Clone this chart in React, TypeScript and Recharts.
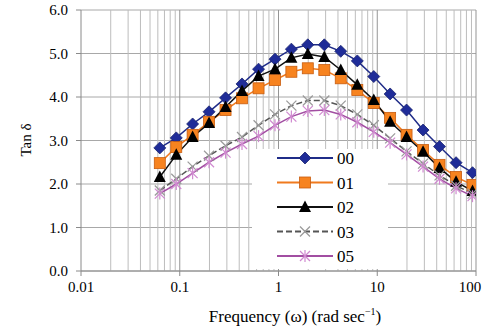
import React from "react";
import { LineChart, Line, XAxis, YAxis, CartesianGrid, ReferenceLine } from "recharts";

// angular frequency (rad/s), ~6 points per decade
const freq = [0.0628, 0.0922, 0.135, 0.198, 0.291, 0.427, 0.628, 0.922, 1.35, 1.98, 2.91, 4.27, 6.28, 9.22, 13.5, 19.8, 29.1, 42.7, 62.8, 92.2];

const tan00 = [2.83, 3.06, 3.38, 3.66, 3.98, 4.3, 4.64, 4.87, 5.1, 5.2, 5.2, 5.05, 4.83, 4.47, 4.07, 3.7, 3.24, 2.86, 2.49, 2.26];
const tan01 = [2.48, 2.85, 3.13, 3.43, 3.7, 3.97, 4.2, 4.39, 4.58, 4.66, 4.62, 4.43, 4.16, 3.86, 3.52, 3.13, 2.78, 2.44, 2.16, 1.98];
const tan02 = [2.16, 2.67, 3.08, 3.4, 3.77, 4.14, 4.48, 4.64, 4.9, 4.99, 4.92, 4.62, 4.28, 3.93, 3.43, 3.08, 2.74, 2.37, 2.05, 1.84];
const tan03 = [1.85, 2.12, 2.4, 2.65, 2.88, 3.08, 3.35, 3.6, 3.8, 3.92, 3.92, 3.8, 3.6, 3.35, 3.05, 2.75, 2.47, 2.2, 1.96, 1.78];
const tan05 = [1.78, 2.0, 2.25, 2.5, 2.72, 2.92, 3.1, 3.35, 3.55, 3.68, 3.7, 3.6, 3.42, 3.2, 2.95, 2.68, 2.4, 2.12, 1.9, 1.72];

const xTicks = [0.01, 0.1, 1, 10, 100];
const yTicks = [0, 1, 2, 3, 4, 5, 6];
const minorX = [
  0.02, 0.03, 0.04, 0.05, 0.06, 0.07, 0.08, 0.09,
  0.2, 0.3, 0.4, 0.5, 0.6, 0.7, 0.8, 0.9,
  2, 3, 4, 5, 6, 7, 8, 9,
  20, 30, 40, 50, 60, 70, 80, 90,
];
const majorX = [0.1, 1, 10, 100];

const data = freq.map((f, i) => ({
  f,
  s00: tan00[i],
  s01: tan01[i],
  s02: tan02[i],
  s03: tan03[i],
  s05: tan05[i],
}));

type Shape = "diamond" | "square" | "triangle" | "x" | "star";

const series: { key: string; name: string; color: string; shape: Shape; dash?: string; width: number }[] = [
  { key: "s00", name: "00", color: "#1f2c88", shape: "diamond", width: 1.5 },
  { key: "s01", name: "01", color: "#f07a1e", shape: "square", width: 1.5 },
  { key: "s02", name: "02", color: "#111111", shape: "triangle", width: 1.5 },
  { key: "s03", name: "03", color: "#555555", shape: "x", dash: "6 3", width: 1.5 },
  { key: "s05", name: "05", color: "#a24ea2", shape: "star", width: 1.5 },
];

const SERIF = "Liberation Serif";

const renderXTick = (p: any) => (
  <text key={`xt${p.index}`} x={p.x} y={p.y} dy="0.71em" textAnchor="middle" fontFamily={SERIF} fontSize={15} fill="#000">
    {String(p.payload.value)}
  </text>
);

const renderYTick = (p: any) => (
  <text key={`yt${p.index}`} x={p.x} y={p.y} dy="0.35em" textAnchor="end" fontFamily={SERIF} fontSize={15} fill="#000">
    {Number(p.payload.value).toFixed(1)}
  </text>
);

const Marker = ({ shape, cx, cy }: { shape: Shape; cx: number; cy: number }) => {
  switch (shape) {
    case "diamond":
      return <polygon points={`${cx},${cy - 6} ${cx + 6},${cy} ${cx},${cy + 6} ${cx - 6},${cy}`} fill="#1f2c98" stroke="#1a2470" strokeWidth={0.8} />;
    case "square":
      return <rect x={cx - 5.5} y={cy - 5.5} width={11} height={11} fill="#f7831f" stroke="#c85d10" strokeWidth={0.8} />;
    case "triangle":
      return <polygon points={`${cx},${cy - 6.5} ${cx + 6},${cy + 5} ${cx - 6},${cy + 5}`} fill="#000" />;
    case "x":
      return (
        <g stroke="#9a9a9a" strokeWidth={1.2}>
          <line x1={cx - 5} y1={cy - 5} x2={cx + 5} y2={cy + 5} />
          <line x1={cx - 5} y1={cy + 5} x2={cx + 5} y2={cy - 5} />
        </g>
      );
    default:
      return (
        <g stroke="#d08ad0" strokeWidth={1.2}>
          <line x1={cx - 5} y1={cy - 5} x2={cx + 5} y2={cy + 5} />
          <line x1={cx - 5} y1={cy + 5} x2={cx + 5} y2={cy - 5} />
          <line x1={cx} y1={cy - 6} x2={cx} y2={cy + 6} />
        </g>
      );
  }
};

const dotFor = (shape: Shape) => (props: any) => {
  const { cx, cy, index } = props;
  if (cx == null || cy == null) return <g key={`d${index}`} />;
  return (
    <g key={`d${index}`}>
      <Marker shape={shape} cx={cx} cy={cy} />
    </g>
  );
};

const LegendBox = () => (
  <svg width={136} height={120} style={{ position: "absolute", left: 252, top: 149, background: "#fff" }}>
    {series.map((s, i) => {
      const y = 9 + i * 24.5;
      return (
        <g key={s.key}>
          <line x1={25} x2={81} y1={y} y2={y} stroke={s.color} strokeWidth={2} strokeDasharray={s.dash} />
          <Marker shape={s.shape} cx={53} cy={y} />
          <text x={85} y={y + 6} fontFamily={SERIF} fontSize={17} fill="#000">{s.name}</text>
        </g>
      );
    })}
  </svg>
);

const XTitle = () => (
  <text x={295} y={322} textAnchor="middle" fontFamily={SERIF} fontSize={17} fill="#000">
    Frequency (ω) (rad sec
    <tspan dy={-7} fontSize={10}>−1</tspan>
    <tspan dy={7}>)</tspan>
  </text>
);

const YTitle = () => (
  <text x={0} y={0} transform="translate(26,140) rotate(-90)" textAnchor="middle" dy="0.35em" fontFamily={SERIF} fontSize={15} fill="#000">
    Tan δ
  </text>
);

export default function App() {
  return (
    <div style={{ position: "absolute", left: 0, top: 0, width: 482, height: 329, background: "#fff", fontFamily: SERIF }}>
      <LineChart width={482} height={329} data={data} margin={{ top: 10, right: 6, left: 0, bottom: 0 }}>
        <CartesianGrid horizontal vertical={false} stroke="#a8a8a8" strokeWidth={1} />
        {minorX.map((v) => (
          <ReferenceLine key={`m${v}`} x={v} stroke="#bdbdbd" strokeWidth={1} />
        ))}
        {majorX.map((v) => (
          <ReferenceLine key={`M${v}`} x={v} stroke="#959595" strokeWidth={1} />
        ))}
        <XAxis
          dataKey="f"
          type="number"
          scale="log"
          domain={[0.01, 100]}
          allowDataOverflow
          ticks={xTicks}
          height={58}
          stroke="#8a8a8a"
          tickSize={5}
          tickMargin={5}
          tick={renderXTick}
          label={<XTitle />}
        />
        <YAxis
          type="number"
          domain={[0, 6]}
          ticks={yTicks}
          width={81}
          stroke="#8a8a8a"
          tickSize={5}
          tickMargin={8}
          tick={renderYTick}
          label={<YTitle />}
        />
        {series.map((s) => (
          <Line
            key={s.key}
            dataKey={s.key}
            name={s.name}
            stroke={s.color}
            strokeWidth={s.width}
            strokeDasharray={s.dash}
            dot={dotFor(s.shape)}
            activeDot={false}
            isAnimationActive={false}
          />
        ))}
      </LineChart>
      <LegendBox />
    </div>
  );
}
